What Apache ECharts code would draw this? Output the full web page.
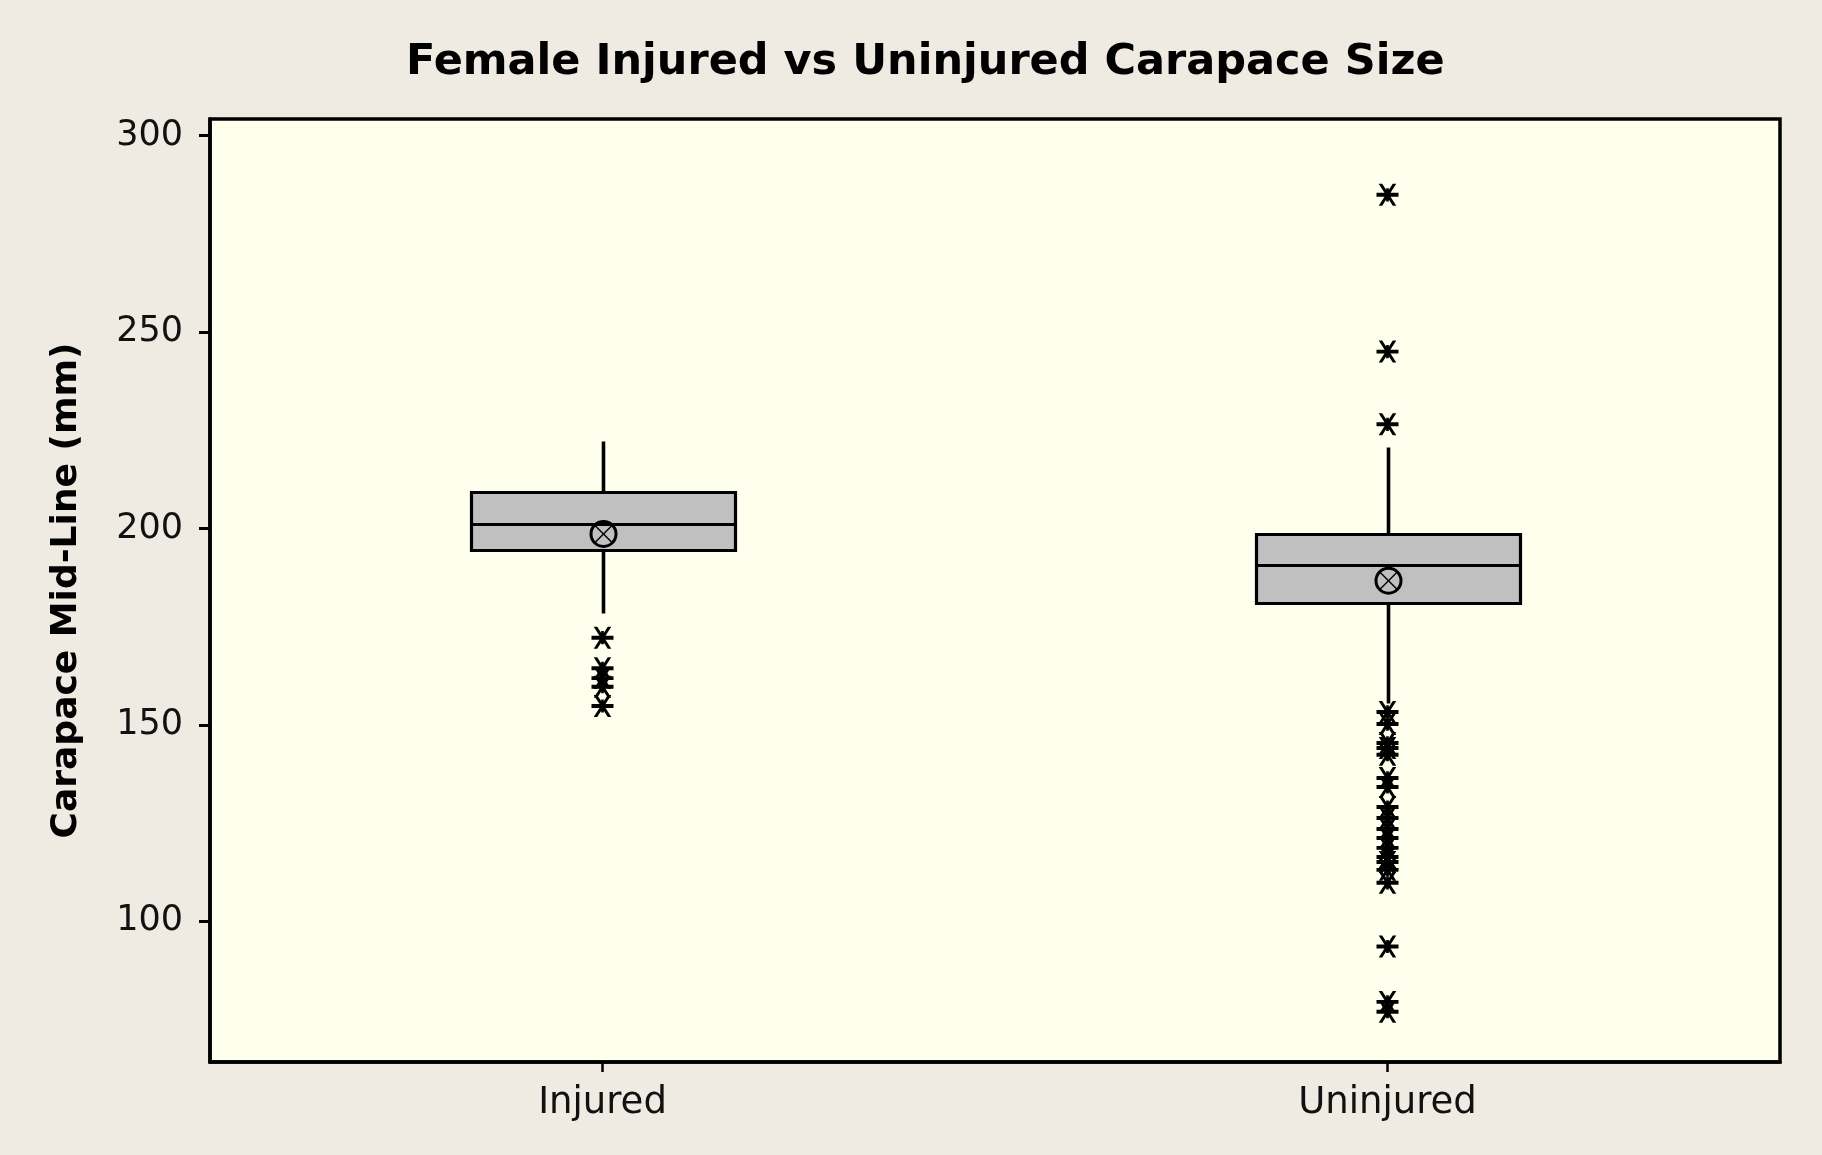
<!DOCTYPE html>
<html>
<head>
<meta charset="utf-8">
<script src="https://cdn.jsdelivr.net/npm/echarts@6/dist/echarts.min.js"></script>
<style>
html,body{margin:0;padding:0;background:#EFEBE3;}
#chart{width:1822px;height:1155px;}
</style>
</head>
<body>
<div id="chart"></div>
<script>
// ---- data ----
const categories = ['Injured', 'Uninjured'];
const whiskerLow  = [178.4, 155.5];
const q1          = [194.6, 181.0];
const median      = [201.1, 190.7];
const q3          = [209.3, 198.6];
const whiskerHigh = [222.2, 220.8];
const means       = [198.6, 186.7];
const injuredOutliers = [172.2, 164.4, 161.9, 159.7, 154.8];
const uninjuredOutliers = [284.9, 245.0, 226.5,
  153.3, 150.2, 145.4, 144.1, 142.4, 136.5, 134.2, 129.1, 126.3,
  123.5, 121.2, 118.7, 116.4, 115.1, 113.1, 109.8,
  93.6, 79.5, 77.0];
const yTicks = [100, 150, 200, 250, 300];
const yMin = 64.2, yMax = 304.2;

// ---- build ----
const boxData = categories.map((c, i) => [i, whiskerLow[i], q1[i], median[i], q3[i], whiskerHigh[i], means[i]]);
const outlierData = injuredOutliers.map(v => [0, v]).concat(uninjuredOutliers.map(v => [1, v]));

const starPath = 'path://M10,0 L26,0 L90,100 L74,100 Z M74,0 L90,0 L26,100 L10,100 Z M0,41 L100,41 L100,59 L0,59 Z M44,20 L56,20 L56,80 L44,80 Z';

function renderBox(params, api) {
  const idx = api.value(0);
  const xc = Math.round(api.coord([idx, api.value(3)])[0]);
  const x = xc + 0.5;
  const band = api.size([1, 0])[0];
  const halfW = Math.round(band * 0.168);
  const yy = (k) => Math.round(api.coord([idx, api.value(k)])[1]) + 0.5;
  const yWL = yy(1), yQ1 = yy(2), yMd = yy(3), yQ3 = yy(4), yWH = yy(5);
  const yMn = api.coord([idx, api.value(6)])[1];
  const ws = {stroke: '#000', lineWidth: 3.6};
  const ls = {stroke: '#000', lineWidth: 3.2};
  const r = 12.5, d = r * 0.68;
  return {
    type: 'group',
    children: [
      {type: 'line', shape: {x1: x, y1: yWH, x2: x, y2: yQ3}, style: ws},
      {type: 'line', shape: {x1: x, y1: yQ1, x2: x, y2: yWL}, style: ws},
      {type: 'rect', shape: {x: x - halfW, y: yQ3, width: 2 * halfW, height: yQ1 - yQ3},
        style: {fill: '#C0C0C0', stroke: '#000', lineWidth: 3.2}},
      {type: 'line', shape: {x1: x - halfW, y1: yMd, x2: x + halfW, y2: yMd}, style: ls},
      {type: 'circle', shape: {cx: x, cy: yMn, r: r}, style: {fill: 'none', stroke: '#000', lineWidth: 3}},
      {type: 'line', shape: {x1: x - d, y1: yMn - d, x2: x + d, y2: yMn + d}, style: {stroke: '#000', lineWidth: 1.5}},
      {type: 'line', shape: {x1: x - d, y1: yMn + d, x2: x + d, y2: yMn - d}, style: {stroke: '#000', lineWidth: 1.5}}
    ]
  };
}

const chart = echarts.init(document.getElementById('chart'), null, {renderer: 'canvas'});
chart.setOption({
  animation: false,
  backgroundColor: '#EFEBE3',
  title: {
    text: 'Female Injured vs Uninjured Carapace Size',
    left: 401, top: 36,
    textStyle: {fontFamily: 'DejaVu Sans', fontWeight: 'bold', fontSize: 43, color: '#000'}
  },
  grid: {
    left: 210, right: 42, top: 119, bottom: 93,
    show: true, backgroundColor: '#FFFFEE', borderColor: '#000', borderWidth: 3.5
  },
  xAxis: {
    type: 'category',
    data: categories,
    boundaryGap: true,
    axisLine: {show: true, lineStyle: {color: '#000', width: 3.5}},
    axisTick: {show: true, alignWithLabel: true, length: 10, lineStyle: {color: '#000', width: 2.5}},
    axisLabel: {margin: 23, fontFamily: 'DejaVu Sans', fontSize: 37, color: '#111'},
    splitLine: {show: false}
  },
  yAxis: {
    type: 'value',
    min: yMin, max: yMax,
    name: 'Carapace Mid-Line (mm)',
    nameLocation: 'middle',
    nameGap: 125,
    nameTextStyle: {fontFamily: 'DejaVu Sans', fontWeight: 'bold', fontSize: 36, color: '#000'},
    axisLine: {show: true, lineStyle: {color: '#000', width: 3.5}},
    axisTick: {show: true, length: 11, customValues: yTicks, lineStyle: {color: '#000', width: 3}},
    axisLabel: {margin: 27, customValues: yTicks, fontFamily: 'DejaVu Sans', fontSize: 35, color: '#111'},
    splitLine: {show: false}
  },
  series: [
    {
      type: 'custom',
      renderItem: renderBox,
      data: boxData,
      encode: {x: 0, y: [1, 2, 3, 4, 5, 6]},
      z: 2
    },
    {
      type: 'scatter',
      data: outlierData,
      symbol: starPath,
      symbolSize: 22,
      itemStyle: {color: '#000', opacity: 1},
      z: 3
    }
  ]
});
</script>
</body>
</html>
